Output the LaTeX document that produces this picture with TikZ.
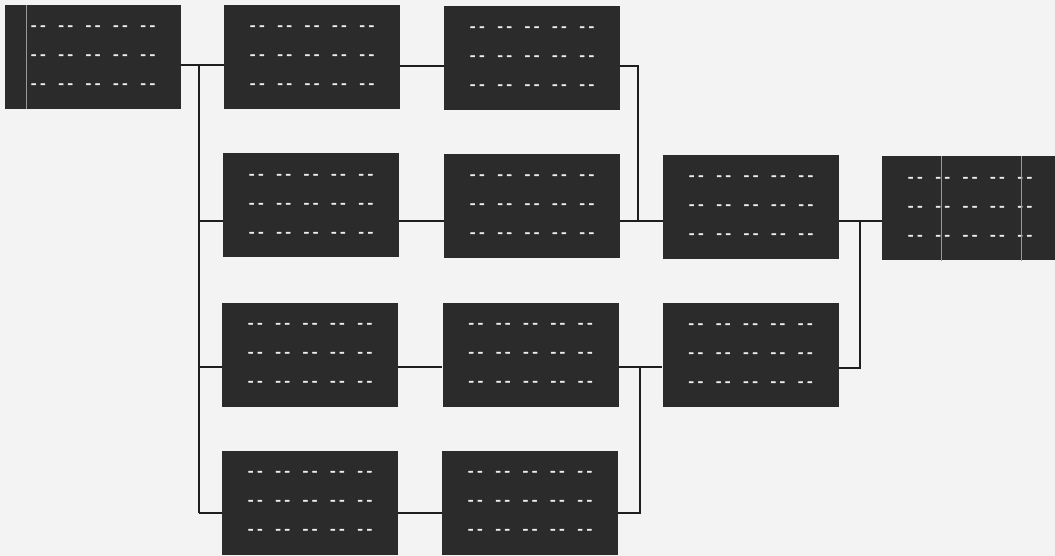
\documentclass[tikz,border=0pt]{standalone}
\usepackage{fontspec}
\newfontfamily\dashfont{Liberation Mono}[FakeBold=2.5]
\definecolor{bgc}{HTML}{F3F3F3}
\definecolor{boxc}{HTML}{2B2B2B}
\definecolor{dashc}{HTML}{EDEDED}
\definecolor{wirec}{HTML}{1E1E1E}
\definecolor{streak}{HTML}{9A9A9A}
\newcommand\dashrow{-{}- -{}- -{}- -{}- -{}-}
\newcommand\dashtext{\dashrow\\\dashrow\\\dashrow}
\tikzset{
  blk/.style={fill=boxc, draw=none, minimum width=176pt, minimum height=104pt,
    inner sep=0pt, text=dashc, align=center,
    font=\dashfont\fontsize{15.2}{29}\selectfont},
  wire/.style={draw=wirec, line width=1.6pt},
  streakline/.style={draw=streak, line width=0.7pt}
}
\begin{document}
\begin{tikzpicture}[x=1pt,y=1pt]
\fill[bgc] (0,0) rectangle (1055,-556);
\useasboundingbox (0,0) rectangle (1055,-556);
% boxes
\node[blk] (A)  at (93,-57)    {\dashtext};
\node[blk] (B1) at (312,-57)   {\dashtext};
\node[blk] (C1) at (532,-58)   {\dashtext};
\node[blk] (B2) at (311,-205.5){\dashtext};
\node[blk] (C2) at (532,-206)  {\dashtext};
\node[blk] (D1) at (751,-207)  {\dashtext};
\node[blk] (E)  at (970,-208.5){\dashtext};
\node[blk] (B3) at (310,-354.5){\dashtext};
\node[blk] (C3) at (530.5,-354.5){\dashtext};
\node[blk] (D2) at (750.5,-355){\dashtext};
\node[blk] (B4) at (310,-502.5){\dashtext};
\node[blk] (C4) at (530,-502.5){\dashtext};
% scan streaks
\draw[streakline] ([xshift=22pt]A.north west) -- ([xshift=22pt]A.south west);
\draw[streakline] ([xshift=60pt]E.north west) -- ([xshift=60pt]E.south west);
\draw[streakline] ([xshift=140pt]E.north west) -- ([xshift=140pt]E.south west);
% junction coordinates
\coordinate (t1) at (199,-65);
\coordinate (t2) at (199,-221);
\coordinate (t3) at (199,-367);
\coordinate (t4) at (199,-513);
\coordinate (m1) at (638,-66);
\coordinate (m2) at (638,-221);
\coordinate (m3) at (640,-367);
\coordinate (m4) at (640,-513);
\coordinate (r1) at (860,-221);
\coordinate (r2) at (860,-368);
% connectors
\draw[wire] (A.east |- t1) -- (B1.west |- t1);
\draw[wire] (t1) -- (t4);
\draw[wire] (t2) -- (B2.west |- t2);
\draw[wire] (t3) -- (B3.west |- t3);
\draw[wire] (t4) -- (B4.west |- t4);
\draw[wire] (B1.east |- m1) -- (C1.west |- m1);
\draw[wire] (B2.east |- m2) -- (C2.west |- m2);
\draw[wire] (B3.east |- m3) -- (C3.west |- m3);
\draw[wire] (B4.east |- m4) -- (C4.west |- m4);
\draw[wire] (C1.east |- m1) -- (m1) -- (m2);
\draw[wire] (C2.east |- m2) -- (D1.west |- m2);
\draw[wire] (C3.east |- m3) -- (D2.west |- m3);
\draw[wire] (C4.east |- m4) -- (m4) -- (m3);
\draw[wire] (D1.east |- r1) -- (E.west |- r1);
\draw[wire] (D2.east |- r2) -- (r2) -- (r1);
\end{tikzpicture}
\end{document}
